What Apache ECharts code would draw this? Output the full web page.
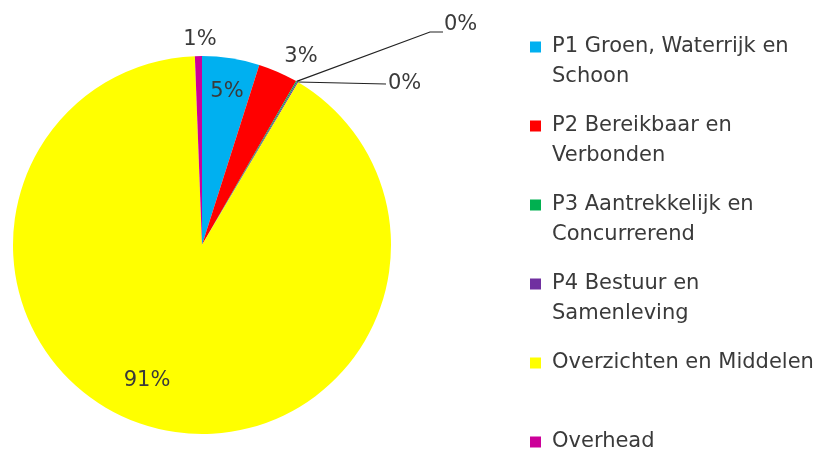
<!DOCTYPE html>
<html>
<head>
<meta charset="utf-8">
<script src="https://cdn.jsdelivr.net/npm/echarts@6/dist/echarts.min.js"></script>
<style>
  html, body { margin: 0; padding: 0; background: #fff; }
  #chart { width: 830px; height: 458px; }
</style>
</head>
<body>
<div id="chart"></div>
<script>
const names = [
    'P1 Groen, Waterrijk en Schoon',
    'P2 Bereikbaar en Verbonden',
    'P3 Aantrekkelijk en Concurrerend',
    'P4 Bestuur en Samenleving',
    'Overzichten en Middelen',
    'Overhead'
]
const legendLabels = [
    'P1 Groen, Waterrijk en\nSchoon',
    'P2 Bereikbaar en\nVerbonden',
    'P3 Aantrekkelijk en\nConcurrerend',
    'P4 Bestuur en\nSamenleving',
    'Overzichten en Middelen\n ',
    'Overhead\n '
]
const values = [4.9, 3.4, 0.1, 0.1, 90.9, 0.6]
const colors = ['#00b0f0', '#ff0000', '#00b050', '#7030a0', '#ffff00', '#cc0099']

// label plaatsing (x, y, uitlijning) per segment
const labelPlace = [
    { x: 227, y: 92, align: 'center' },
    { x: 301, y: 57, align: 'center' },
    { x: 444, y: 25, align: 'left', line: [[430, 32], [443, 32]] },
    { x: 388, y: 84, align: 'left', line: [[386, 84]] },
    { x: 147, y: 381, align: 'center' },
    { x: 200, y: 40, align: 'center' }
]

const font = 'DejaVu Sans'

// vierkantje bovenaan, onzichtbaar puntje onderaan zodat tekst naast eerste regel staat
const legendIcon = 'path://M0,0H11V11H0Z M17,41H17.01V41.01H17Z'

const pieData = names.map((n, i) => ({
    name: n,
    value: values[i],
    itemStyle: { color: colors[i] },
    labelLine: { show: !!labelPlace[i].line }
}))

const option = {
    animation: false,
    legend: {
        orient: 'vertical',
        left: 530,
        top: 32,
        height: 480,
        padding: 0,
        itemGap: 19,
        itemWidth: 17,
        itemHeight: 41,
        icon: legendIcon,
        data: names,
        formatter: (name) => legendLabels[names.indexOf(name)],
        textStyle: {
            fontFamily: font,
            fontSize: 21,
            lineHeight: 30,
            color: '#3a3a3a'
        }
    },
    series: [{
        type: 'pie',
        center: [202, 245],
        radius: 189,
        startAngle: 90,
        clockwise: true,
        avoidLabelOverlap: false,
        data: pieData,
        label: {
            show: true,
            position: 'outside',
            formatter: (p) => Math.round(p.percent) + '%',
            fontFamily: font,
            fontSize: 21,
            color: '#3a3a3a'
        },
        labelLine: {
            show: false,
            lineStyle: { color: '#222', width: 1.2 }
        },
        labelLayout: (params) => {
            const p = labelPlace[params.dataIndex]
            const res = { x: p.x, y: p.y, align: p.align, verticalAlign: 'middle' }
            if (p.line && params.labelLinePoints) {
                res.labelLinePoints = [params.labelLinePoints[0]].concat(p.line)
            }
            return res
        },
        emphasis: { disabled: true }
    }]
}

const chart = echarts.init(document.getElementById('chart'))
chart.setOption(option)
</script>
</body>
</html>
